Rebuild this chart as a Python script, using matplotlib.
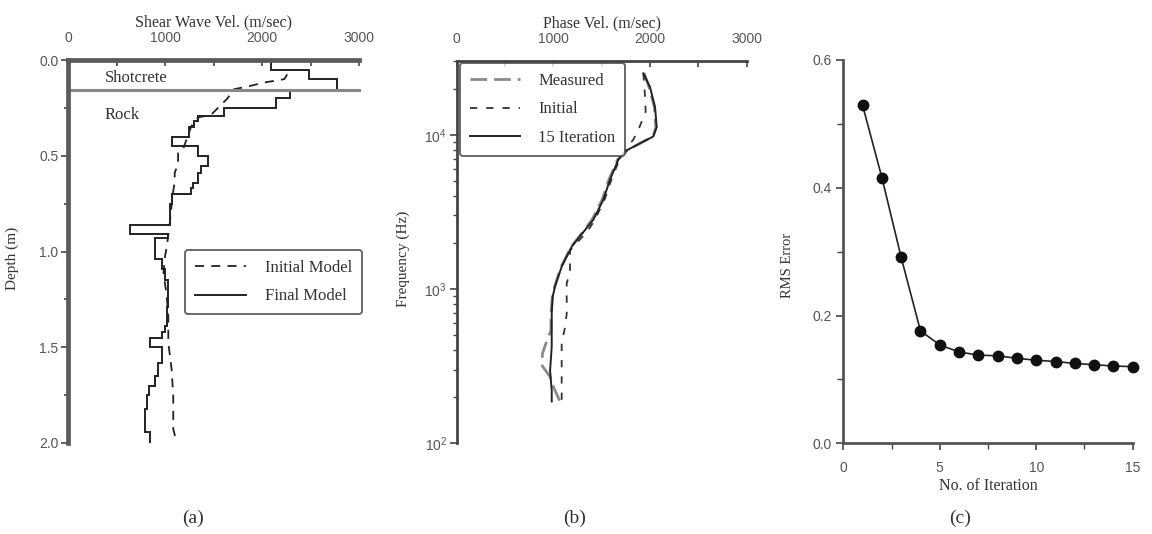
import numpy as np
import matplotlib
matplotlib.use("Agg")
import matplotlib.pyplot as plt
from matplotlib.ticker import MultipleLocator, LogLocator, NullFormatter, FixedLocator

# ---------------- data ----------------
# (a) shear wave velocity profiles
final_edges = [0.00, 0.05, 0.10, 0.156, 0.20, 0.25, 0.295, 0.32, 0.35, 0.40,
               0.45, 0.50, 0.555, 0.59, 0.64, 0.67, 0.70, 0.75, 0.86, 0.91,
               0.93, 1.04, 1.09, 1.15, 1.29, 1.39, 1.42, 1.45, 1.50, 1.58,
               1.65, 1.70, 1.75, 1.82, 1.94, 2.00]
final_vel = [2090, 2480, 2770, 2290, 2140, 1610, 1340, 1300, 1250, 1070,
             1340, 1440, 1370, 1340, 1290, 1270, 1070, 1050, 640, 1035,
             900, 965, 1000, 1035, 1017, 1000, 966, 850, 966, 932,
             900, 830, 814, 797, 847]
init_depth = [0.075, 0.10, 0.118, 0.135, 0.153, 0.20, 0.243, 0.286, 0.30, 0.347,
              0.417, 0.469, 0.486, 0.54, 0.59, 0.634, 0.72, 0.85, 0.98, 1.024,
              1.11, 1.23, 1.336, 1.476, 1.545, 1.614, 1.753, 1.927, 1.997]
init_vel = [2260, 2230, 2020, 1880, 1710, 1645, 1560, 1475, 1340, 1270,
            1220, 1185, 1135, 1135, 1100, 1100, 1075, 1050, 1017, 1000,
            985, 1017, 1034, 1034, 1051, 1068, 1085, 1085, 1120]
layer_boundary = 0.156

# (b) dispersion curves (frequency in Hz, phase velocity in m/s)
iter_freq = [25119, 20417, 15136, 11220, 9772, 8831, 7943, 6918, 5129, 3802,
             2818, 2415, 1884, 1396, 1035, 891, 692, 537, 422, 295, 219, 186]
iter_vel = [1931, 2000, 2052, 2069, 2034, 1897, 1759, 1672, 1586, 1517,
            1414, 1328, 1190, 1086, 1017, 993, 983, 983, 983, 966, 983, 983]
meas_freq = [25119, 20417, 15136, 11220, 9772, 8831, 7943, 6918, 5129, 3802,
             2818, 2415, 1884, 1396, 1035, 891, 692, 537, 490, 380, 316, 269, 232, 186]
meas_vel = [1940, 1990, 2045, 2060, 2030, 1900, 1765, 1665, 1575, 1505,
            1400, 1320, 1185, 1080, 1012, 990, 975, 975, 948, 886, 886, 966, 1000, 1069]
init_freq = [25119, 17783, 14125, 11220, 9333, 8511, 7079, 5129, 3802, 2818,
             2399, 1778, 1259, 1096, 692, 562, 447, 282, 214, 186]
init_vel_b = [1931, 1948, 1955, 1890, 1828, 1776, 1690, 1600, 1530, 1430,
              1360, 1172, 1172, 1138, 1138, 1120, 1086, 1086, 1086, 1086]

# (c) convergence
iterations = list(range(1, 16))
rms_error = [0.529, 0.416, 0.291, 0.176, 0.154, 0.143, 0.138, 0.137, 0.133,
             0.130, 0.128, 0.125, 0.123, 0.121, 0.120]

# ---------------- style ----------------
SERIF = ["Liberation Serif", "DejaVu Serif"]
SANS = ["Liberation Sans", "DejaVu Sans"]
TXT = "#333333"
TICKC = "#555555"
plt.rcParams["font.family"] = SERIF

fig = plt.figure(figsize=(11.52, 5.34), dpi=100)

def style_ticklabels(ax):
    for lab in ax.get_xticklabels() + ax.get_yticklabels():
        lab.set_fontfamily(SANS)
        lab.set_fontsize(10)
        lab.set_color(TICKC)

# ---------------- (a) ----------------
axa = fig.add_axes([68/1152, 1-443/534, 291/1152, 383/534])
axa.stairs(final_vel, final_edges, orientation="horizontal", baseline=None,
           color="#222222", lw=1.4, label="Final Model")
axa.plot(init_vel, init_depth, color="#222222", lw=1.3, ls=(0, (5, 4)),
         label="Initial Model")
axa.plot([0, 3000], [layer_boundary, layer_boundary], color="#888888", lw=2.2,
         clip_on=False)
axa.set_xlim(0, 3000)
axa.set_ylim(2.0, 0.0)
axa.xaxis.tick_top()
axa.xaxis.set_label_position("top")
axa.set_xlabel("Shear Wave Vel. (m/sec)", fontsize=11.5, color=TXT, labelpad=3)
axa.set_ylabel("Depth (m)", fontsize=11, color=TXT)
axa.yaxis.set_label_coords(-0.17, 0.483)
axa.xaxis.set_major_locator(MultipleLocator(1000))
axa.xaxis.set_minor_locator(MultipleLocator(500))
axa.yaxis.set_major_locator(MultipleLocator(0.5))
axa.yaxis.set_minor_locator(MultipleLocator(0.25))
axa.yaxis.set_major_formatter(matplotlib.ticker.FormatStrFormatter("%.1f"))
for s in ["right", "bottom"]:
    axa.spines[s].set_visible(False)
for s in ["left", "top"]:
    axa.spines[s].set_linewidth(3.4)
    axa.spines[s].set_color("#5a5a5a")
axa.tick_params(axis="x", which="both", direction="in", length=4, width=1.2,
                color="#444444", pad=11)
axa.tick_params(axis="y", which="major", direction="out", length=5, width=1.2,
                color="#444444", pad=2)
axa.tick_params(axis="y", which="minor", direction="out", length=3, width=1.2,
                color="#444444")
style_ticklabels(axa)
axa.text(380, 0.094, "Shotcrete", fontsize=12, color=TXT, va="center", ha="left")
axa.text(380, 0.286, "Rock", fontsize=12, color=TXT, va="center", ha="left")
h, l = axa.get_legend_handles_labels()
order = [l.index("Initial Model"), l.index("Final Model")]
leg = axa.legend([h[i] for i in order], [l[i] for i in order],
                 loc="upper right", bbox_to_anchor=(1.01, 0.504), borderaxespad=0,
                 fontsize=12, frameon=True, fancybox=True, handlelength=3.1,
                 handletextpad=1.1, labelspacing=0.75, borderpad=0.6)
leg.get_frame().set_edgecolor("#444444")
leg.get_frame().set_linewidth(1.4)
for t in leg.get_texts():
    t.set_color(TXT)

# ---------------- (b) ----------------
axb = fig.add_axes([456.7/1152, 1-443/534, 290/1152, 382/534])
axb.plot(meas_vel, meas_freq, color="#8a8a8a", lw=2.0, ls=(0, (6, 2.5)),
         label="Measured")
axb.plot(init_vel_b, init_freq, color="#333333", lw=1.3, ls=(0, (4, 5)),
         label="Initial")
axb.plot(iter_vel, iter_freq, color="#222222", lw=1.4, label="15 Iteration")
axb.set_yscale("log")
axb.set_xlim(0, 3000)
axb.set_ylim(100, 30200)
axb.xaxis.tick_top()
axb.xaxis.set_label_position("top")
axb.set_xlabel("Phase Vel. (m/sec)", fontsize=11.5, color=TXT, labelpad=3)
axb.set_ylabel("Frequency (Hz)", fontsize=11, color=TXT)
axb.yaxis.set_label_coords(-0.16, 0.482)
axb.xaxis.set_major_locator(MultipleLocator(1000))
axb.xaxis.set_minor_locator(MultipleLocator(500))
axb.yaxis.set_major_locator(FixedLocator([1e2, 1e3, 1e4]))
axb.yaxis.set_minor_locator(LogLocator(base=10, subs=np.arange(2, 10)))
axb.yaxis.set_minor_formatter(NullFormatter())
for s in ["right", "bottom"]:
    axb.spines[s].set_visible(False)
for s in ["left", "top"]:
    axb.spines[s].set_linewidth(2.0)
    axb.spines[s].set_color("#444444")
axb.tick_params(axis="x", which="both", direction="in", length=4, width=1.2,
                color="#444444", pad=11)
axb.tick_params(axis="y", which="major", direction="out", length=5, width=1.2,
                color="#444444", pad=2)
axb.tick_params(axis="y", which="minor", direction="out", length=3, width=1.0,
                color="#444444")
style_ticklabels(axb)
leg = axb.legend(loc="upper left", bbox_to_anchor=(0.011, 0.995), borderaxespad=0,
                 fontsize=12, frameon=True, fancybox=True, handlelength=3.0,
                 handletextpad=1.1, labelspacing=0.75, borderpad=0.6)
leg.get_frame().set_edgecolor("#444444")
leg.get_frame().set_linewidth(1.4)
for t in leg.get_texts():
    t.set_color(TXT)

# ---------------- (c) ----------------
axc = fig.add_axes([843.3/1152, 1-443.3/534, 289.4/1152, 383.3/534])
axc.plot(iterations, rms_error, color="#222222", lw=1.2, marker="o",
         markersize=7.5, markerfacecolor="#111111", markeredgecolor="#111111",
         clip_on=False, zorder=3)
axc.set_xlim(0, 15)
axc.set_ylim(0.0, 0.6)
axc.set_xlabel("No. of Iteration", fontsize=11.5, color=TXT, labelpad=2)
axc.set_ylabel("RMS Error", fontsize=10.5, color=TXT)
axc.yaxis.set_label_coords(-0.17, 0.463)
axc.xaxis.set_major_locator(MultipleLocator(5))
axc.xaxis.set_minor_locator(MultipleLocator(2.5))
axc.yaxis.set_major_locator(MultipleLocator(0.2))
axc.yaxis.set_minor_locator(MultipleLocator(0.1))
axc.yaxis.set_major_formatter(matplotlib.ticker.FormatStrFormatter("%.1f"))
for s in ["right", "top"]:
    axc.spines[s].set_visible(False)
for s in ["left", "bottom"]:
    axc.spines[s].set_linewidth(2.0)
    axc.spines[s].set_color("#555555")
axc.tick_params(axis="x", which="major", direction="out", length=5, width=1.2,
                color="#444444", pad=8)
axc.tick_params(axis="y", which="major", direction="out", length=5, width=1.2,
                color="#444444", pad=3)
axc.tick_params(axis="both", which="minor", direction="out", length=4, width=1.0,
                color="#444444")
style_ticklabels(axc)

# ---------------- panel labels ----------------
for x, lab in [(193, "(a)"), (575, "(b)"), (960, "(c)")]:
    fig.text(x/1152, 1-518/534, lab, fontsize=14, color=TXT,
             ha="center", va="center")

fig.savefig("out.png", dpi=100)
